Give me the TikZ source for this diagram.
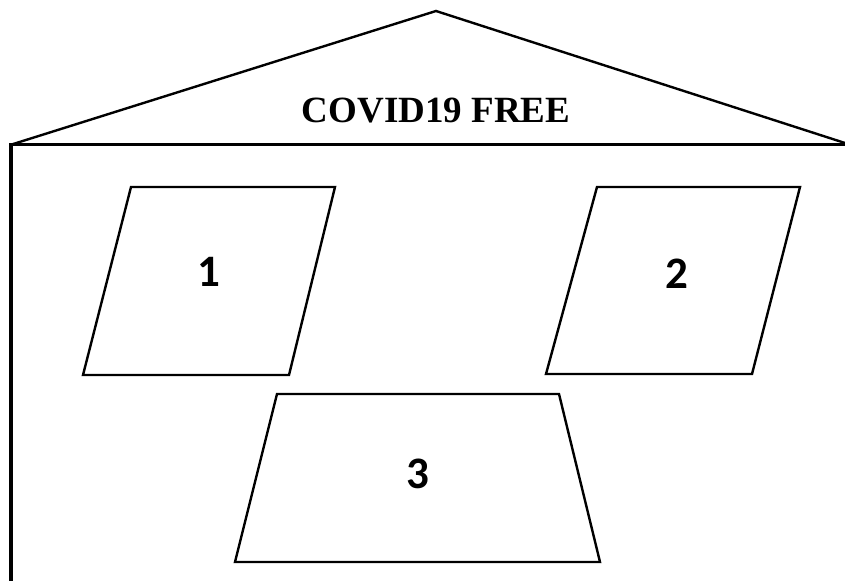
\documentclass[tikz,border=0pt]{standalone}
\usepackage{fontspec}
\setmainfont{Liberation Serif}
\newfontfamily\calib{Carlito}
\begin{document}
\begin{tikzpicture}[x=1pt,y=-1pt,
  roofline/.style={line width=2.4pt,line join=miter},
  wallline/.style={line width=3.4pt},
  shapeline/.style={line width=2.4pt,line join=miter},
  numlabel/.style={font=\calib\fontsize{45}{48}\selectfont\bfseries},
  titlelabel/.style={font=\fontsize{37}{40}\selectfont\bfseries}]
\useasboundingbox (0,0) rectangle (845,581);
% roof
\draw[roofline] (10,145) -- (436,11) -- (845,143);
\draw[wallline] (10,144.5) -- (845,144.5);
\draw[wallline] (11,143) -- (11,581);
\node[titlelabel] (title) at (436,111) {COVID19 FREE};
% room 1
\draw[shapeline] (131,187) -- (335,187) -- (289,375) -- (83,375) -- cycle;
\node[numlabel] (one) at (209,272) {1};
% room 2
\draw[shapeline] (597,187) -- (800,187) -- (752,374) -- (546,374) -- cycle;
\node[numlabel] (two) at (677,274) {2};
% room 3
\draw[shapeline] (277,394) -- (559,394) -- (600,562) -- (235,562) -- cycle;
\node[numlabel] (three) at (418,474) {3};
\end{tikzpicture}
\end{document}
